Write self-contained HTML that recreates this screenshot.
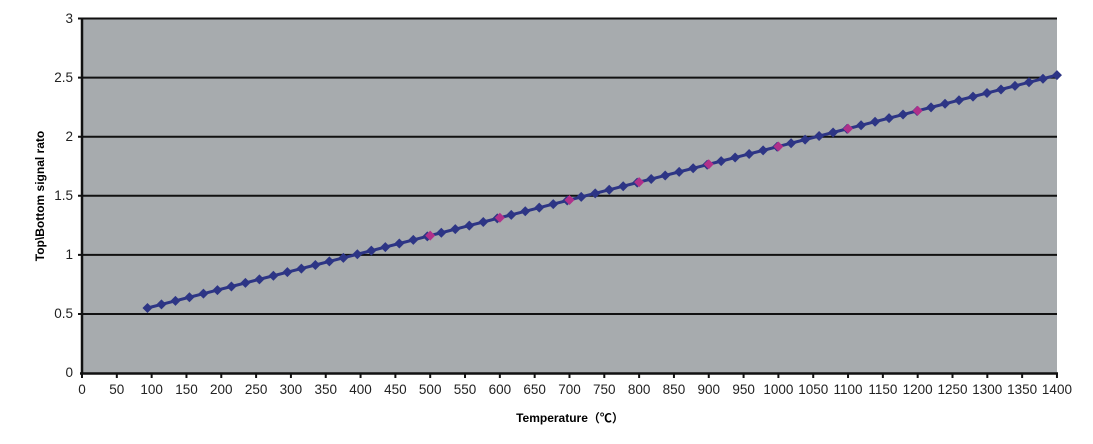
<!DOCTYPE html><html><head><style>body{margin:0;background:#fff}svg{display:block}text{font-family:"Liberation Sans","Noto Sans CJK SC",sans-serif}</style></head><body>
<svg width="1093" height="444" viewBox="0 0 1093 444" xmlns="http://www.w3.org/2000/svg">
<rect x="82" y="18.5" width="975" height="354.5" fill="#a7abae"/>
<g stroke="#111" stroke-width="2">
<line x1="78" y1="18.5" x2="1057" y2="18.5"/>
<line x1="78" y1="77.6" x2="1057" y2="77.6"/>
<line x1="78" y1="136.7" x2="1057" y2="136.7"/>
<line x1="78" y1="195.8" x2="1057" y2="195.8"/>
<line x1="78" y1="254.9" x2="1057" y2="254.9"/>
<line x1="78" y1="314" x2="1057" y2="314"/>
</g>
<line x1="82" y1="17.5" x2="82" y2="374" stroke="#111" stroke-width="2.5"/>
<line x1="80" y1="373.5" x2="1058" y2="373.5" stroke="#111" stroke-width="2.5"/>
<g font-size="13.5" fill="#222" text-anchor="end">
<text x="73" y="23">3</text><text x="73" y="82">2.5</text><text x="73" y="141">2</text><text x="73" y="200">1.5</text><text x="73" y="259">1</text><text x="73" y="318">0.5</text><text x="73" y="377">0</text>
</g>
<g id="xt"></g>
<text x="44" y="196" font-size="12" font-weight="bold" text-anchor="middle" transform="rotate(-90 44 196)">Top\Bottom signal rato</text>
<text x="570" y="422" font-size="12" font-weight="bold" text-anchor="middle">Temperature（℃）</text>
<g id="series"></g>
<script>
var ns="http://www.w3.org/2000/svg";
function X(v){return 82+v*0.6964}function Y(v){return 373-v*118.2}
var xt=document.getElementById('xt');
for(var t=0;t<=1400;t+=50){var l=document.createElementNS(ns,'line');l.setAttribute('x1',X(t));l.setAttribute('x2',X(t));l.setAttribute('y1',373);l.setAttribute('y2',378);l.setAttribute('stroke','#111');l.setAttribute('stroke-width','2');xt.appendChild(l);
var tx=document.createElementNS(ns,'text');tx.setAttribute('x',X(t));tx.setAttribute('y',394);tx.setAttribute('font-size','13.5');tx.setAttribute('fill','#222');tx.setAttribute('text-anchor','middle');tx.textContent=t;xt.appendChild(tx);}
var s=document.getElementById('series');
var x0=94,x1=1400,y0=0.55,y1=2.52,n=65,pts=[];
for(var i=0;i<=n;i++){var x=x0+(x1-x0)*i/n;pts.push([X(x),Y(y0+(y1-y0)*i/n)]);}
var pl=document.createElementNS(ns,'polyline');pl.setAttribute('points',pts.map(function(p){return p.join(',')}).join(' '));pl.setAttribute('fill','none');pl.setAttribute('stroke','#2d3585');pl.setAttribute('stroke-width','3');s.appendChild(pl);
function dm(px,py,c){var p=document.createElementNS(ns,'polygon');p.setAttribute('points',(px)+','+(py-5)+' '+(px+5)+','+py+' '+px+','+(py+5)+' '+(px-5)+','+py);p.setAttribute('fill',c);s.appendChild(p);}
pts.forEach(function(p){dm(p[0],p[1],'#2d3585')});
for(var k=500;k<=1200;k+=100){var yy=y0+(y1-y0)*(k-x0)/(x1-x0);dm(X(k),Y(yy),'#b0308a');}
</script>
</svg></body></html>
